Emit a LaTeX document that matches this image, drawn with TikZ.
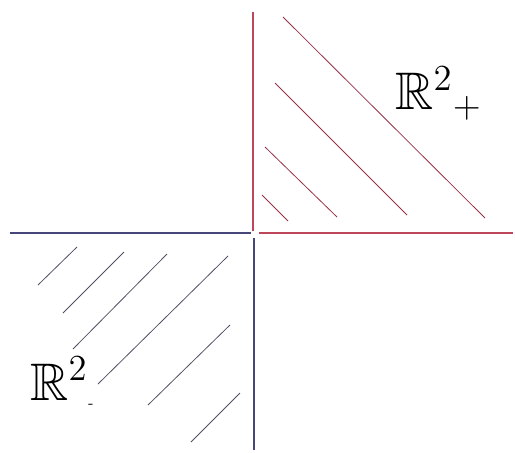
\documentclass[tikz,border=0pt]{standalone}
\usepackage{amsmath, amssymb}

\definecolor{axisred}{RGB}{190,70,90}
\definecolor{hatchred}{RGB}{150,50,70}
\definecolor{axisblue}{RGB}{70,70,120}
\definecolor{hatchblue}{RGB}{80,80,100}

\begin{document}
\begin{tikzpicture}[
		x=0.02cm, y=-0.02cm,
		% Style for the half axes
		axis pos/.style={draw=axisred, line width=0.8pt},
		axis neg/.style={draw=axisblue, line width=0.8pt},
		% Style for the hatching
		hatch pos/.style={draw=hatchred, line width=0.45pt},
		hatch neg/.style={draw=hatchblue, line width=0.45pt},
		% Set labels
		set label/.style={font=\huge, scale=1.45, inner sep=0pt, anchor=base west}
		]
		\useasboundingbox (0,0) rectangle (515,453);
		
		% ==============================================================================
		% Axes
		% ==============================================================================
		\coordinate (yTop) at (253,12);
		\coordinate (yMid) at (253,231);
		\coordinate (xRightStart) at (259,233);
		\coordinate (xRight) at (513,233);
		\coordinate (xLeft) at (10,233);
		\coordinate (xLeftEnd) at (251,233);
		\coordinate (yLowStart) at (254,238);
		\coordinate (yLow) at (254,450);
		
		\draw[axis pos] (yTop) -- (yMid);
		\draw[axis pos] (xRightStart) -- (xRight);
		\draw[axis neg] (xLeft) -- (xLeftEnd);
		\draw[axis neg] (yLowStart) -- (yLow);
		
		% ==============================================================================
		% Hatching of the positive quadrant
		% ==============================================================================
		\foreach \xa/\ya/\xb/\yb in {283/17/485/218, 275/83/407/215, 265/147/337/217, 262/195/288/221}
			\draw[hatch pos] (\xa,\ya) -- (\xb,\yb);
		
		% Hatching of the negative quadrant
		\foreach \xa/\ya/\xb/\yb in {38/285/77/247, 63/313/124/252, 73/349/167/254,
				98/384/228/256, 148/405/230/325, 191/442/240/393}
			\draw[hatch neg] (\xa,\ya) -- (\xb,\yb);
		
		% ==============================================================================
		% Labels
		% ==============================================================================
		\node[set label] (Rplus) at (395,110) {$\mathbb{R}^{2}{}_{+}$};
		\node[set label] (Rminus) at (30,400) {$\mathbb{R}^{2}{}_{\text{\tiny -}}$};
	\end{tikzpicture}
\end{document}
